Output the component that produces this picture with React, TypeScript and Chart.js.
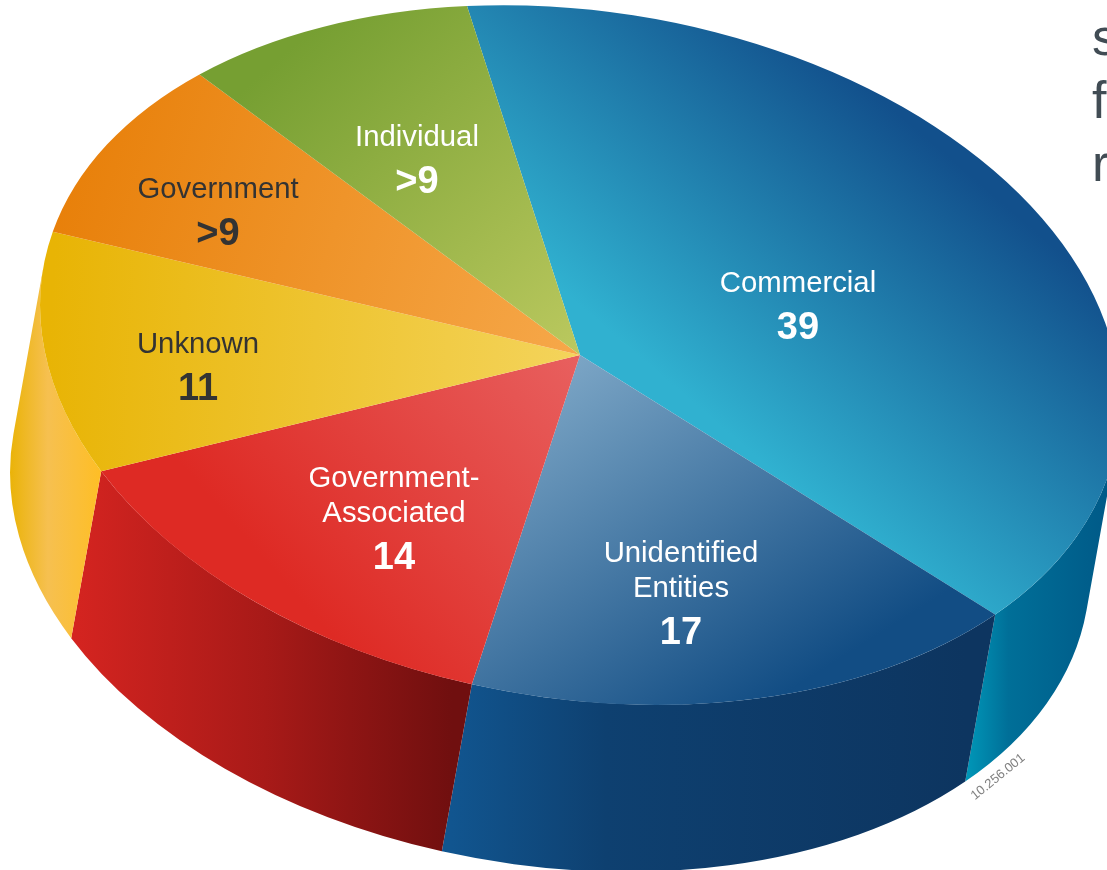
import React, { useEffect, useRef } from "react";
import { Chart, registerables } from "chart.js";

Chart.register(...registerables);

// Slices, clockwise from the top edge of the disc.
const sectors = ["Commercial", "Unidentified Entities", "Government-Associated", "Unknown", "Government", "Individual"];
const counts = [39, 17, 14, 11, 9, 9];
const countTexts = ["39", "17", "14", "11", ">9", ">9"];
const nameLines = [["Commercial"], ["Unidentified", "Entities"], ["Government-", "Associated"], ["Unknown"], ["Government"], ["Individual"]];
const sideNote = ["s", "f", "r"];
const figureCode = "10.256.001";

const labelInk = ["#ffffff", "#ffffff", "#ffffff", "#333333", "#333333", "#ffffff"];
const labelCentres: [number, number][] = [[798, 284], [681, 554], [394, 479], [198, 345], [218, 190], [417, 138]];

// Projection of the unit disc onto the page: tilted ellipse around the hub.
const HUB = { x: 580, y: 355 };
const AXIS_U = { x: 528, y: -24 };
const AXIS_V = { x: 113, y: 349 };
const DEPTH = { x: -30, y: 167 };

type Stop = [number, string];
type Sweep = { from: [number, number]; to: [number, number]; stops: Stop[] };

const topShades: Sweep[] = [
  { from: [690, 400], to: [920, 132], stops: [[0, "#30b1d0"], [1, "#12508c"]] },
  { from: [580, 355], to: [790, 690], stops: [[0, "#7ba5c5"], [1, "#124d84"]] },
  { from: [580, 355], to: [300, 600], stops: [[0, "#e8605f"], [1, "#de2a24"]] },
  { from: [580, 360], to: [50, 330], stops: [[0, "#f4d45c"], [1, "#e8b405"]] },
  { from: [580, 355], to: [60, 200], stops: [[0, "#f6a84a"], [1, "#e8800a"]] },
  { from: [575, 350], to: [300, 40], stops: [[0, "#bac85e"], [1, "#769f32"]] },
];

const wallShades: Sweep[] = [
  { from: [966, 0], to: [1107, 0], stops: [[0, "#0097b8"], [0.3, "#006f98"], [1, "#005a88"]] },
  { from: [452, 0], to: [966, 0], stops: [[0, "#11558f"], [0.3, "#0e4070"], [1, "#0d3560"]] },
  { from: [76, 0], to: [452, 0], stops: [[0, "#d42420"], [0.5, "#a81a18"], [1, "#700f0f"]] },
  { from: [10, 0], to: [105, 0], stops: [[0, "#eab308"], [0.4, "#f6c050"], [1, "#ffbe22"]] },
];

const det = AXIS_U.x * AXIS_V.y - AXIS_V.x * AXIS_U.y;

// Maps a page position into the unit disc.
function toDisc(x: number, y: number): [number, number] {
  const dx = x - HUB.x;
  const dy = y - HUB.y;
  return [(AXIS_V.y * dx - AXIS_V.x * dy) / det, (-AXIS_U.y * dx + AXIS_U.x * dy) / det];
}

function applyProjection(ctx: CanvasRenderingContext2D, cx: number, cy: number, r: number) {
  ctx.transform(AXIS_U.x / r, AXIS_U.y / r, AXIS_V.x / r, AXIS_V.y / r, HUB.x, HUB.y);
  ctx.translate(-cx, -cy);
}

// A gradient that reads as a straight page-space sweep once the projection is applied.
function projectedSweep(chart: Chart, sweep: Sweep) {
  const cx = chart.width / 2;
  const cy = chart.height / 2;
  const r = Math.min(chart.width, chart.height) / 2;
  const [sx, sy] = sweep.from;
  const [ex, ey] = sweep.to;
  const len2 = (ex - sx) ** 2 + (ey - sy) ** 2;
  const gx = (ex - sx) / len2;
  const gy = (ey - sy) / len2;
  const vx = (AXIS_U.x * gx + AXIS_U.y * gy) / r;
  const vy = (AXIS_V.x * gx + AXIS_V.y * gy) / r;
  const v2 = vx * vx + vy * vy;
  const [ux, uy] = toDisc(sx, sy);
  const x0 = cx + ux * r;
  const y0 = cy + uy * r;
  const g = chart.ctx.createLinearGradient(x0, y0, x0 + vx / v2, y0 + vy / v2);
  sweep.stops.forEach(([at, colour]) => g.addColorStop(at, colour));
  return g;
}

const discPlugin = {
  id: "tiltedDisc",
  beforeDatasetsDraw(chart: Chart) {
    const { ctx } = chart;
    const arcs = chart.getDatasetMeta(0).data as any[];
    const { x: cx, y: cy, outerRadius: r } = arcs[0];
    const [ox, oy] = toDisc(HUB.x + DEPTH.x, HUB.y + DEPTH.y);
    const facing = Math.atan2(oy, ox);
    const twoPi = Math.PI * 2;

    // Rim: only the part of each slice's arc that faces the viewer.
    arcs.forEach((arc, i) => {
      const shade = wallShades[i];
      if (!shade) return;
      let a0 = arc.startAngle;
      let a1 = arc.endAngle;
      while (a1 < facing - Math.PI / 2) { a0 += twoPi; a1 += twoPi; }
      while (a0 > facing + Math.PI / 2) { a0 -= twoPi; a1 -= twoPi; }
      a0 = Math.max(a0, facing - Math.PI / 2);
      a1 = Math.min(a1, facing + Math.PI / 2);
      if (a1 <= a0) return;
      ctx.save();
      applyProjection(ctx, cx, cy, r);
      ctx.beginPath();
      ctx.arc(cx, cy, r, a0, a1);
      ctx.arc(cx + ox * r, cy + oy * r, r, a1, a0, true);
      ctx.closePath();
      ctx.restore();
      const g = ctx.createLinearGradient(shade.from[0], shade.from[1], shade.to[0], shade.to[1]);
      shade.stops.forEach(([at, colour]) => g.addColorStop(at, colour));
      ctx.fillStyle = g;
      ctx.fill();
    });

    ctx.save();
    applyProjection(ctx, cx, cy, r);
  },
  afterDatasetsDraw(chart: Chart) {
    chart.ctx.restore();
  },
  afterDraw(chart: Chart) {
    const { ctx } = chart;
    ctx.save();
    ctx.textAlign = "center";
    ctx.textBaseline = "middle";
    nameLines.forEach((lines, i) => {
      const [x, y] = labelCentres[i];
      ctx.fillStyle = labelInk[i];
      ctx.font = '29.3px "Liberation Sans"';
      lines.forEach((line, k) => ctx.fillText(line, x, y + k * 35));
      ctx.font = 'bold 38px "Liberation Sans"';
      ctx.fillText(countTexts[i], x, y + (lines.length - 1) * 35 + 45);
    });

    ctx.textAlign = "left";
    ctx.textBaseline = "alphabetic";
    ctx.fillStyle = "#414c54";
    ctx.font = '52px "Liberation Sans"';
    sideNote.forEach((t, k) => ctx.fillText(t, 1092, 55 + k * 63));

    ctx.translate(998, 777);
    ctx.rotate((-39 * Math.PI) / 180);
    ctx.textAlign = "center";
    ctx.textBaseline = "middle";
    ctx.fillStyle = "#808080";
    ctx.font = '13px "Liberation Sans"';
    ctx.fillText(figureCode, 0, 0);
    ctx.restore();
  },
};

export default function App() {
  const canvasRef = useRef<HTMLCanvasElement>(null);

  useEffect(() => {
    const chart = new Chart(canvasRef.current as HTMLCanvasElement, {
      type: "pie",
      data: {
        labels: sectors,
        datasets: [
          {
            data: counts,
            clip: false,
            borderWidth: 0,
            backgroundColor: (c: any) => projectedSweep(c.chart, topShades[c.dataIndex] ?? topShades[0]),
          } as any,
        ],
      },
      options: {
        responsive: false,
        animation: false,
        events: [],
        rotation: 0,
        plugins: { legend: { display: false }, tooltip: { enabled: false } },
      },
      plugins: [discPlugin as any],
    });
    return () => chart.destroy();
  }, []);

  return (
    <canvas
      ref={canvasRef}
      width={1107}
      height={870}
      style={{ position: "absolute", left: 0, top: 0, display: "block", width: 1107, height: 870 }}
    />
  );
}
